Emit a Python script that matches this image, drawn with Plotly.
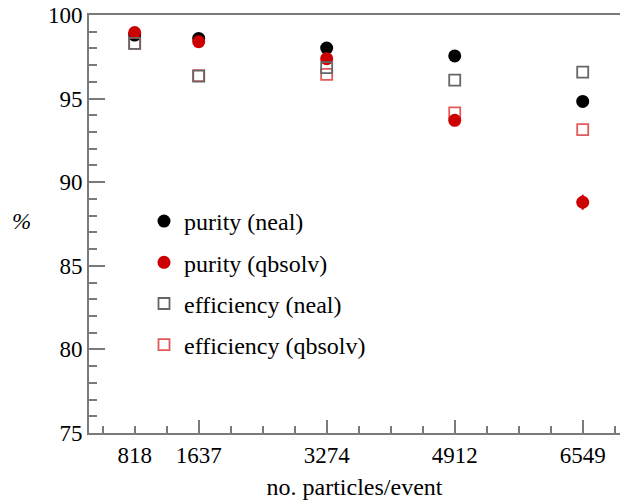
import plotly.graph_objects as go

particles = [818, 1637, 3274, 4912, 6549]
purity_neal = [98.8, 98.6, 98.02, 97.55, 94.83]
purity_qbsolv = [98.95, 98.4, 97.39, 93.7, 88.8]
purity_qbsolv_err = [0.0, 0.0, 0.0, 0.0, 0.45]
eff_neal = [98.3, 96.35, 96.85, 96.1, 96.58]
eff_qbsolv = [98.3, 96.38, 96.45, 94.15, 93.15]

major_x = [1637, 3274, 4912, 6549]
x_range = [234, 7026]
y_ticks = [75, 80, 85, 90, 95, 100]

FONT = "Liberation Serif"
AXC = "#7a7a7a"

fig = go.Figure()
fig.add_trace(go.Scatter(x=particles, y=purity_neal, mode="markers", name="purity (neal)",
                         marker=dict(symbol="circle", size=13, color="#000000"),
                         legendgroup="a", legendrank=1))
fig.add_trace(go.Scatter(x=particles, y=eff_qbsolv, mode="markers", name="efficiency (qbsolv)",
                         marker=dict(symbol="square-open", size=11, color="#e25a5a", line=dict(width=1.8)),
                         legendgroup="d", legendrank=4))
fig.add_trace(go.Scatter(x=particles, y=purity_qbsolv, mode="markers", name="purity (qbsolv)",
                         marker=dict(symbol="circle", size=13, color="#cc0000"),
                         error_y=dict(type="data", array=purity_qbsolv_err, color="#cc0000", thickness=2, width=0),
                         legendgroup="b", legendrank=2))
fig.add_trace(go.Scatter(x=particles, y=eff_neal, mode="markers", name="efficiency (neal)",
                         marker=dict(symbol="square-open", size=11, color="#666666", line=dict(width=1.8)),
                         legendgroup="c", legendrank=3))
# invisible trace to carry the overlay axis with the long major ticks
fig.add_trace(go.Scatter(x=major_x, y=[None] * len(major_x), xaxis="x2", mode="markers",
                         showlegend=False, hoverinfo="skip"))

fig.update_layout(
    width=620, height=500, autosize=False,
    margin=dict(l=89, r=0, t=15, b=67, autoexpand=False),
    paper_bgcolor="white", plot_bgcolor="white",
    font=dict(family=FONT, size=23, color="black"),
    showlegend=True,
    legend=dict(x=(144 - 89) / 531, y=(433 - 199) / 418, xanchor="left", yanchor="top",
                bgcolor="rgba(0,0,0,0)", traceorder="grouped", tracegroupgap=7,
                font=dict(family=FONT, size=24)),
    xaxis=dict(range=x_range, tickmode="array", tickvals=particles, ticktext=[str(p) for p in particles],
               ticks="", showline=True, linecolor=AXC, linewidth=2, mirror=True, showgrid=False,
               zeroline=False, tickfont=dict(family=FONT, size=23), automargin=False,
               ticklabeloverflow="allow",
               minor=dict(ticks="inside", ticklen=7, tickwidth=1.5, tickcolor=AXC, tick0=0, dtick=1637 / 4,
                          showgrid=False),
               title=dict(text="no. particles/event", font=dict(family=FONT, size=24), standoff=12)),
    xaxis2=dict(range=x_range, overlaying="x", anchor="y", side="bottom", tickmode="array",
                tickvals=major_x, ticks="inside", ticklen=13, tickwidth=1.5, tickcolor=AXC,
                showticklabels=False, showline=False, showgrid=False, zeroline=False, automargin=False),
    yaxis=dict(range=[75, 100], tickmode="array", tickvals=y_ticks, ticks="inside", ticklen=16,
               tickwidth=1.5, tickcolor=AXC, showline=True, linecolor=AXC, linewidth=2,
               showgrid=False, zeroline=False, tickfont=dict(family=FONT, size=23), automargin=False,
               ticklabeloverflow="allow",
               minor=dict(ticks="inside", ticklen=8, tickwidth=1.5, tickcolor=AXC, dtick=1, tick0=75,
                          showgrid=False)),
    annotations=[dict(text="<i>%</i>", xref="paper", yref="paper", x=-0.128, y=0.505,
                      xanchor="center", yanchor="middle",
                      showarrow=False, font=dict(family=FONT, size=23))],
)

fig.write_html("out.html", config={"displayModeBar": False},
               post_script="document.body.style.margin='0px';document.body.style.overflow='hidden';")
